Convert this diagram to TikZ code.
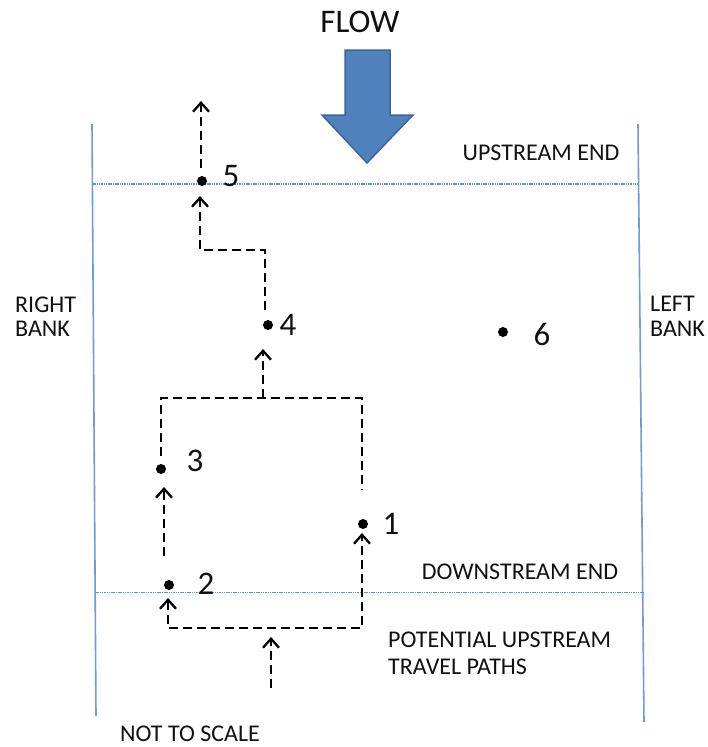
\documentclass[tikz,border=0pt]{standalone}
\usepackage{fontspec}
\setmainfont{Carlito}
\usetikzlibrary{arrows.meta}
\definecolor{bankblue}{HTML}{6F9BD6}
\definecolor{endblue}{HTML}{5F95DC}
\definecolor{flowfill}{HTML}{4F81BD}
\definecolor{flowline}{HTML}{3C6696}
\definecolor{txt}{HTML}{111111}
\begin{document}
\begin{tikzpicture}[x=1pt,y=-1pt,
  dot/.style={circle,fill=black,inner sep=0pt,minimum size=10pt},
  num/.style={font=\fontsize{33}{36}\selectfont,text=txt,inner sep=0pt,anchor=center},
  lbl/.style={font=\fontsize{24}{27}\selectfont,text=txt,inner sep=0pt,align=left},
  bank/.style={draw=bankblue,line width=1.6pt},
  endline/.style={draw=endblue,line width=1.2pt,dash pattern=on 1.5pt off 0.8pt},
  travel/.style={draw=black,line width=2.6pt,dash pattern=on 9pt off 5pt},
  tip/.style={-{Straight Barb[length=9pt,width=16pt,line width=2.3pt]}},
  tips/.style={{Straight Barb[length=9pt,width=16pt,line width=2.3pt]}-{Straight Barb[length=9pt,width=16pt,line width=2.3pt]}}
]
\useasboundingbox (0,0) rectangle (708,747);

% banks
\coordinate (rbT) at (92,124);  \coordinate (rbB) at (96,716);
\coordinate (lbT) at (638,124); \coordinate (lbB) at (644,722);
\draw[bank] (rbT) -- (rbB);
\draw[bank] (lbT) -- (lbB);

% ends
\coordinate (uL) at (92,184); \coordinate (uR) at (638,184);
\coordinate (dL) at (95,592.5); \coordinate (dR) at (644,592.5);
\draw[endline] (uL) -- (uR);
\draw[endline] (dL) -- (dR);

% flow arrow
\node[font=\fontsize{33}{36}\selectfont,text=txt,inner sep=0pt] (flow) at (360,22) {FLOW};
\draw[fill=flowfill,draw=flowline,line width=1.5pt,line join=miter]
  (345,50) -- (390,50) -- (390,115) -- (413,115) -- (367,163) -- (322,115) -- (345,115) -- cycle;

% texts
\node[lbl] (up) at (541,153) {UPSTREAM END};
\node[lbl] (down) at (520,572) {DOWNSTREAM END};
\node[lbl,anchor=north west] (pot) at (388,632) {POTENTIAL UPSTREAM\\TRAVEL PATHS};
\node[lbl,anchor=north west,font=\fontsize{24}{24}\selectfont] (rb) at (15,297) {RIGHT\\BANK};
\node[lbl,anchor=north west,font=\fontsize{24}{25}\selectfont] (lb) at (650,296) {LEFT\\BANK};
\node[lbl] (nts) at (190,734) {NOT TO SCALE};

% points
\node[dot] (p1) at (363,524) {};
\node[dot] (p2) at (169,585) {};
\node[dot] (p3) at (161,469) {};
\node[dot] (p4) at (268,325) {};
\node[dot] (p5) at (202,181) {};
\node[dot] (p6) at (503,332) {};
\node[num] (n1) at (391,524) {1};
\node[num] (n2) at (206,584) {2};
\node[num] (n3) at (195,461) {3};
\node[num] (n4) at (288,325) {4};
\node[num] (n5) at (231,176) {5};
\node[num] (n6) at (542,334) {6};

% travel paths
\coordinate (s0) at (271,688); \coordinate (s1) at (271,637);
\draw[travel,tip] (s0) -- (s1);

\coordinate (a2) at (168,598); \coordinate (bl) at (168,628);
\coordinate (br) at (362,628); \coordinate (a1) at (362,533);
\draw[travel,tips] (a2) -- (bl) -- (br) -- (a1);

\coordinate (b2) at (164,556); \coordinate (a3) at (164,487);
\draw[travel,tip] (b2) -- (a3);

\coordinate (c3) at (161,456); \coordinate (tl) at (161,398);
\coordinate (tr) at (362,398); \coordinate (c1) at (362,490);
\draw[travel] (c3) -- (tl) -- (tr) -- (c1);

\coordinate (m0) at (263,398); \coordinate (a4) at (263,349);
\draw[travel,tip] (m0) -- (a4);

\coordinate (d4) at (265,310); \coordinate (ur) at (265,250);
\coordinate (ul) at (200,250); \coordinate (a5) at (200,196);
\draw[travel,tip] (d4) -- (ur) -- (ul) -- (a5);

\coordinate (e5) at (201,168); \coordinate (a6) at (201,101);
\draw[travel,tip] (e5) -- (a6);
\end{tikzpicture}
\end{document}
